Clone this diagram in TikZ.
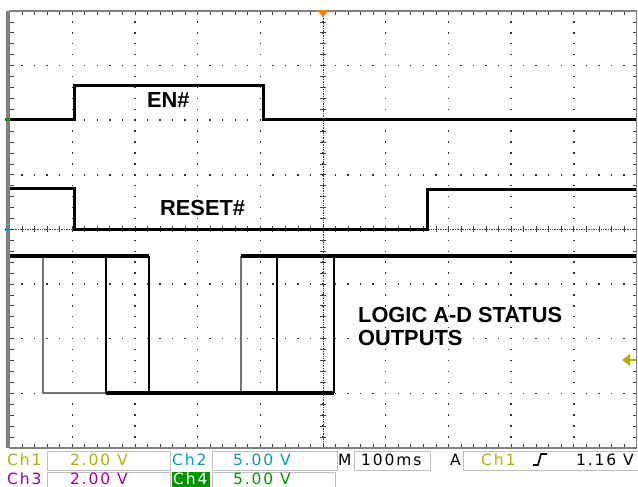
\documentclass[tikz,border=0pt]{standalone}
\usepackage{fontspec}
\newfontfamily\labelfont{Liberation Sans}
\newfontfamily\barfont[LetterSpace=12]{DejaVu Sans}
\usetikzlibrary{calc,math}
\definecolor{chone}{RGB}{176,176,0}
\definecolor{chtwo}{RGB}{0,160,160}
\definecolor{chthree}{RGB}{160,0,160}
\definecolor{chfour}{RGB}{0,150,0}
\definecolor{trigmark}{RGB}{255,128,0}

\begin{document}
\begin{tikzpicture}[x=1pt,y=-1pt,
    griddot/.style={fill=black!80},
    tick/.style={draw=black!75,line width=0.7pt},
    trace/.style={line width=3pt,line join=miter},
    edge/.style={line width=1.5pt},
    faint/.style={draw=black!55,line width=1.5pt},
    barbox/.style={draw=black!25,line width=1pt},
    bartext/.style={anchor=base west,inner sep=0pt,font=\barfont\fontsize{15.5}{16}\selectfont},
    tracelabel/.style={anchor=base west,inner sep=0pt,font=\labelfont\bfseries\fontsize{21.8}{22}\selectfont}]
  \useasboundingbox (0,0) rectangle (638,487);
  \fill[white] (0,0) rectangle (638,487);
  \tikzmath{
    real \xl, \yt, \dx, \dy;
    \xl = 9.5; \yt = 11; \dx = 62.7; \dy = 54.6;
  }
  % graticule
  \foreach \i in {1,...,9} {
    \foreach \k in {1,...,39} {
      \fill[griddot] ({\xl+\i*\dx-0.7},{\yt+\k*\dy/5-0.7}) rectangle +(1.4,1.4);
    }
  }
  \foreach \j in {1,...,7} {
    \foreach \k in {1,...,49} {
      \fill[griddot] ({\xl+\k*\dx/5-0.7},{\yt+\j*\dy-0.7}) rectangle +(1.4,1.4);
    }
  }
  \draw[tick,densely dotted] ({\xl+5*\dx},\yt) -- ({\xl+5*\dx},{\yt+8*\dy});
  \draw[tick,densely dotted] (\xl,{\yt+4*\dy}) -- ({\xl+10*\dx},{\yt+4*\dy});
  \foreach \k in {1,...,39} {
    \draw[tick] ({\xl+5*\dx-3},{\yt+\k*\dy/5}) -- +(6,0);
    \draw[tick] (\xl,{\yt+\k*\dy/5}) -- +(4,0);
    \draw[tick] ({\xl+10*\dx},{\yt+\k*\dy/5}) -- +(-4,0);
  }
  \foreach \k in {1,...,49} {
    \draw[tick] ({\xl+\k*\dx/5},{\yt+4*\dy-3}) -- +(0,6);
    \draw[tick] ({\xl+\k*\dx/5},\yt) -- +(0,4);
    \draw[tick] ({\xl+\k*\dx/5},{\yt+8*\dy}) -- +(0,-4);
  }
  \draw[black!50,line width=1.5pt] (\xl,\yt) rectangle ({\xl+10*\dx},{\yt+8*\dy});
  \draw[black!50,line width=3pt] (7,\yt) -- (7,{\yt+8*\dy});

  % markers
  \fill[trigmark] (317,10) -- (329,10) -- (323,17) -- cycle;
  \fill[chfour] (5,118) rectangle (9,121);
  \fill[chtwo] (5,228) rectangle (9,231);
  \fill[chone] (622,360) -- (630,354) -- (630,366) -- cycle;
  \draw[chone,line width=1.2pt] (630,360) -- (636,360);

  % traces
  \draw[trace] (10,120) -- (74,120) -- (74,86) -- (263,86) -- (263,120) -- (636,120);
  \draw[trace] (10,188) -- (74,188) -- (74,229) -- (427,229) -- (427,189) -- (636,189);
  \draw[faint] (43,256) -- (43,393) -- (106,393);
  \draw[faint] (241,256) -- (241,393);
  \draw[trace,line width=3.6pt] (10,256) -- (149,256);
  \draw[trace,line width=3.6pt] (241,256) -- (636,256);
  \draw[trace,line width=3.6pt] (106,393) -- (334,393);
  \foreach \x in {106,149,277,334} {
    \draw[edge] (\x,256) -- (\x,393);
  }
  \node[tracelabel] (en) at (147,108) {EN\#};
  \node[tracelabel] (reset) at (160,215) {RESET\#};
  \node[tracelabel] (logic) at (358,322) {LOGIC A-D STATUS};
  \node[tracelabel] (outputs) at (358,345) {OUTPUTS};

  % readout bar
  \draw[barbox] (47,451) rectangle (170,470);
  \draw[barbox] (212,451) rectangle (337,470);
  \draw[barbox] (47,472) rectangle (170,492);
  \draw[barbox] (212,472) rectangle (335,492);
  \draw[barbox] (354,451) rectangle (430,470);
  \draw[barbox] (463,451) rectangle (642,470);
  \fill[chfour] (172,472) rectangle (210,487);
  \node[bartext,text=chone] (ch1) at (7,465) {Ch1};
  \node[bartext,text=chone] (ch1val) at (70,465) {2.00 V};
  \node[bartext,text=chtwo] (ch2) at (172,465) {Ch2};
  \node[bartext,text=chtwo] (ch2val) at (233,465) {5.00 V};
  \node[bartext,text=chthree] (ch3) at (7,484) {Ch3};
  \node[bartext,text=chthree] (ch3val) at (70,484) {2.00 V};
  \node[bartext,text=white] (ch4) at (173,484) {Ch4};
  \node[bartext,text=chfour] (ch4val) at (233,484) {5.00 V};
  \node[bartext] (mode) at (338,465) {M};
  \node[bartext] (timebase) at (361,465) {100ms};
  \node[bartext] (acq) at (450,465) {A};
  \node[bartext,text=chone] (trigsrc) at (481,465) {Ch1};
  \draw[line width=1.6pt] (533,465) -- (538,465) -- (541,454) -- (547,454);
  \node[bartext] (triglevel) at (576,465) {1.16 V};
\end{tikzpicture}
\end{document}
